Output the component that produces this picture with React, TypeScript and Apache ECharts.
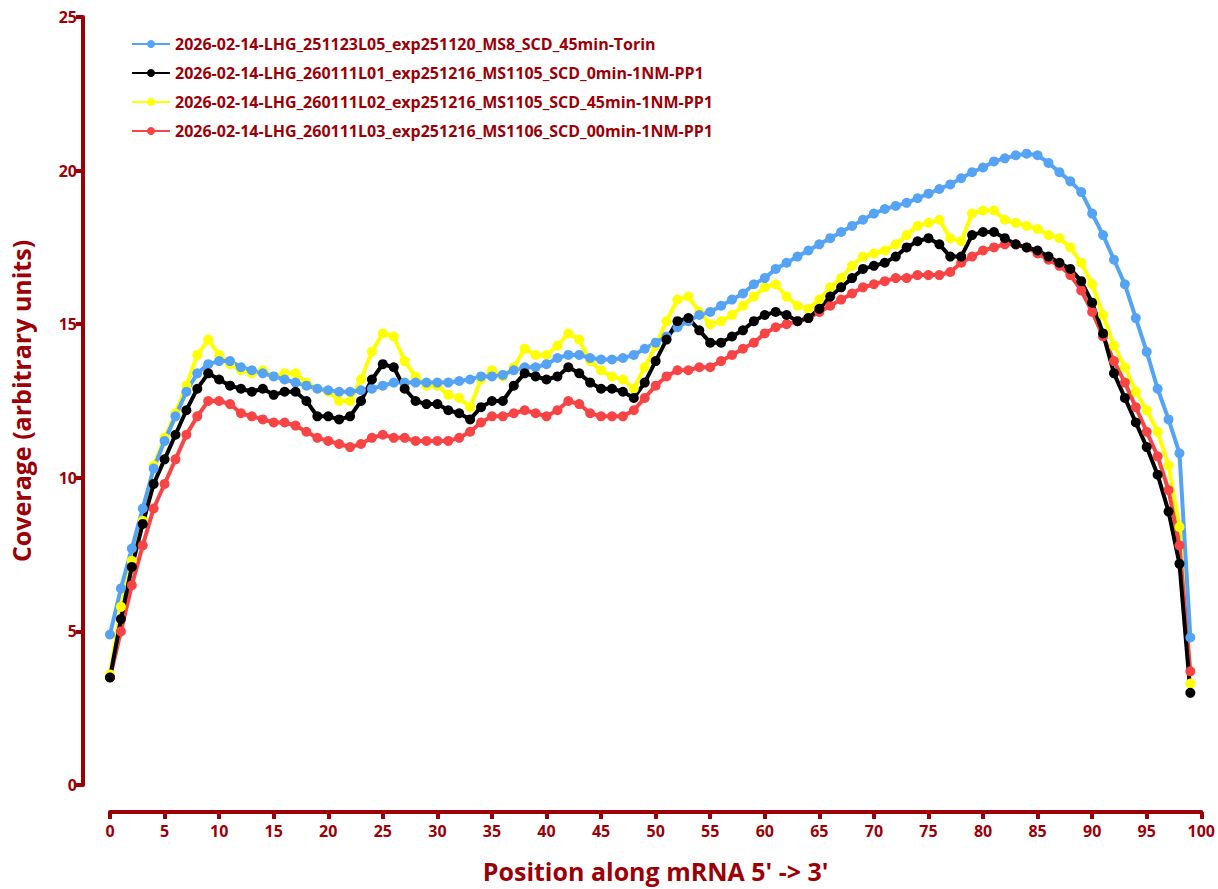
import { useEffect, useRef } from 'react';
import * as echarts from 'echarts';

const positions = Array.from({ length: 100 }, (_, i) => i);

const seriesNames = [
  '2026-02-14-LHG_251123L05_exp251120_MS8_SCD_45min-Torin',
  '2026-02-14-LHG_260111L01_exp251216_MS1105_SCD_0min-1NM-PP1',
  '2026-02-14-LHG_260111L02_exp251216_MS1105_SCD_45min-1NM-PP1',
  '2026-02-14-LHG_260111L03_exp251216_MS1106_SCD_00min-1NM-PP1',
];

const torin = [
  4.9, 6.4, 7.7, 9.0, 10.3, 11.2, 12.0, 12.8, 13.4, 13.7, 13.8, 13.8, 13.6, 13.5, 13.4, 13.3, 13.2, 13.1, 13.0, 12.9,
  12.85, 12.8, 12.8, 12.85, 12.9, 13.0, 13.1, 13.1, 13.1, 13.1, 13.1, 13.1, 13.15, 13.2, 13.3, 13.3, 13.35, 13.5, 13.6, 13.6,
  13.7, 13.9, 14.0, 14.0, 13.9, 13.85, 13.85, 13.9, 14.0, 14.2, 14.4, 14.6, 14.9, 15.1, 15.3, 15.4, 15.6, 15.8, 16.0, 16.3,
  16.5, 16.8, 17.0, 17.2, 17.4, 17.6, 17.8, 18.0, 18.2, 18.4, 18.6, 18.75, 18.85, 18.95, 19.1, 19.25, 19.4, 19.55, 19.75, 19.95,
  20.1, 20.3, 20.4, 20.5, 20.55, 20.5, 20.25, 19.95, 19.65, 19.3, 18.6, 17.9, 17.1, 16.3, 15.2, 14.1, 12.9, 11.9, 10.8, 4.8,
];

const pp1_0min = [
  3.5, 5.4, 7.1, 8.5, 9.8, 10.6, 11.4, 12.2, 12.9, 13.4, 13.2, 13.0, 12.9, 12.8, 12.9, 12.7, 12.8, 12.8, 12.5, 12.0,
  12.0, 11.9, 12.0, 12.5, 13.2, 13.7, 13.6, 12.9, 12.5, 12.4, 12.4, 12.2, 12.1, 11.9, 12.3, 12.5, 12.5, 13.0, 13.4, 13.3,
  13.2, 13.3, 13.6, 13.4, 13.1, 12.9, 12.9, 12.8, 12.6, 13.1, 13.8, 14.5, 15.1, 15.2, 14.8, 14.4, 14.4, 14.6, 14.8, 15.1,
  15.3, 15.4, 15.3, 15.1, 15.2, 15.5, 15.9, 16.2, 16.5, 16.8, 16.9, 17.0, 17.2, 17.5, 17.7, 17.8, 17.6, 17.2, 17.2, 17.9,
  18.0, 18.0, 17.8, 17.6, 17.5, 17.4, 17.2, 17.0, 16.8, 16.4, 15.7, 14.7, 13.4, 12.6, 11.8, 11.0, 10.1, 8.9, 7.2, 3.0,
];

const pp1_45min = [
  3.6, 5.8, 7.3, 8.6, 10.4, 11.3, 12.1, 13.0, 14.0, 14.5, 14.0, 13.7, 13.5, 13.4, 13.5, 13.3, 13.4, 13.4, 13.1, 12.9,
  12.8, 12.5, 12.5, 13.2, 14.1, 14.7, 14.6, 13.8, 13.3, 13.0, 13.0, 12.7, 12.6, 12.3, 13.2, 13.5, 13.3, 13.6, 14.2, 14.0,
  14.0, 14.3, 14.7, 14.5, 13.8, 13.5, 13.3, 13.2, 12.9, 13.6, 14.3, 15.1, 15.8, 15.9, 15.4, 15.0, 15.1, 15.3, 15.6, 15.9,
  16.2, 16.3, 15.9, 15.6, 15.5, 15.8, 16.2, 16.5, 16.9, 17.2, 17.3, 17.4, 17.6, 17.9, 18.2, 18.3, 18.4, 17.8, 17.7, 18.6,
  18.7, 18.7, 18.4, 18.3, 18.2, 18.1, 17.9, 17.8, 17.5, 17.0, 16.3, 15.3, 14.3, 13.6, 12.8, 12.2, 11.5, 10.4, 8.4, 3.3,
];

const pp1_00min = [
  3.5, 5.0, 6.5, 7.8, 9.0, 9.8, 10.6, 11.4, 12.0, 12.5, 12.5, 12.4, 12.1, 12.0, 11.9, 11.8, 11.8, 11.7, 11.5, 11.3,
  11.2, 11.1, 11.0, 11.1, 11.3, 11.4, 11.3, 11.3, 11.2, 11.2, 11.2, 11.2, 11.3, 11.5, 11.8, 12.0, 12.0, 12.1, 12.2, 12.1,
  12.0, 12.2, 12.5, 12.4, 12.1, 12.0, 12.0, 12.0, 12.2, 12.6, 13.0, 13.3, 13.5, 13.5, 13.6, 13.6, 13.8, 14.0, 14.2, 14.4,
  14.7, 14.9, 15.0, 15.1, 15.2, 15.4, 15.6, 15.8, 16.0, 16.2, 16.3, 16.4, 16.5, 16.5, 16.6, 16.6, 16.6, 16.7, 17.0, 17.2,
  17.4, 17.5, 17.6, 17.6, 17.5, 17.3, 17.1, 16.9, 16.6, 16.1, 15.4, 14.6, 13.8, 13.1, 12.3, 11.5, 10.7, 9.6, 7.8, 3.7,
];

const seriesData = [torin, pp1_0min, pp1_45min, pp1_00min];
const seriesColors = ['#55a3f5', '#000000', '#ffff00', '#f84444'];
// draw order: yellow, red, blue, black on top
const drawOrder = [2, 3, 0, 1];

const axisRed = '#9c0006';
const font = "'Open Sans', 'Liberation Sans', sans-serif";

export default function App() {
  const chartRef = useRef<HTMLDivElement>(null);

  useEffect(() => {
    if (!chartRef.current) return;
    const chart = echarts.init(chartRef.current, null, { renderer: 'svg' });

    const series = drawOrder.map((idx) => ({
      name: seriesNames[idx],
      type: 'line' as const,
      data: positions.map((p, i) => [p, seriesData[idx][i]]),
      symbol: 'circle',
      symbolSize: 10,
      color: seriesColors[idx],
      lineStyle: { width: 4, color: seriesColors[idx] },
      itemStyle: { color: seriesColors[idx] },
      emphasis: { disabled: true },
    }));

    chart.setOption({
      animation: false,
      backgroundColor: '#ffffff',
      textStyle: { fontFamily: font },
      grid: { left: 109, right: 9, top: 17, bottom: 104, containLabel: false },
      legend: {
        data: seriesNames,
        orient: 'vertical',
        left: 126,
        top: 31,
        itemGap: 13,
        itemWidth: 38,
        itemHeight: 10,
        textStyle: { color: axisRed, fontWeight: 'bold', fontSize: 16, fontFamily: font },
      },
      xAxis: {
        type: 'value',
        position: 'bottom',
        min: 0,
        max: 100,
        interval: 5,
        offset: 27,
        name: "Position along mRNA 5' -> 3'",
        nameLocation: 'middle',
        nameGap: 46,
        nameTextStyle: { color: axisRed, fontWeight: 'bold', fontSize: 25, fontFamily: font },
        axisLine: { show: true, onZero: false, lineStyle: { color: axisRed, width: 4 } },
        axisTick: { show: true, length: 7, lineStyle: { color: axisRed, width: 4 } },
        axisLabel: { color: axisRed, fontWeight: 'bold', fontSize: 16, margin: 11, fontFamily: font },
        splitLine: { show: false },
      },
      yAxis: {
        type: 'value',
        position: 'left',
        min: 0,
        max: 25,
        interval: 5,
        offset: 27,
        name: 'Coverage (arbitrary units)',
        nameLocation: 'middle',
        nameGap: 50,
        nameTextStyle: { color: axisRed, fontWeight: 'bold', fontSize: 25, fontFamily: font },
        axisLine: { show: true, onZero: false, lineStyle: { color: axisRed, width: 4 } },
        axisTick: { show: true, length: 7, lineStyle: { color: axisRed, width: 4 } },
        axisLabel: { color: axisRed, fontWeight: 'bold', fontSize: 16, margin: 6, fontFamily: font },
        splitLine: { show: false },
      },
      series,
    });

    return () => {
      chart.dispose();
    };
  }, []);

  return (
    <div
      ref={chartRef}
      style={{ position: 'absolute', left: 0, top: 0, width: 1218, height: 889 }}
    />
  );
}
